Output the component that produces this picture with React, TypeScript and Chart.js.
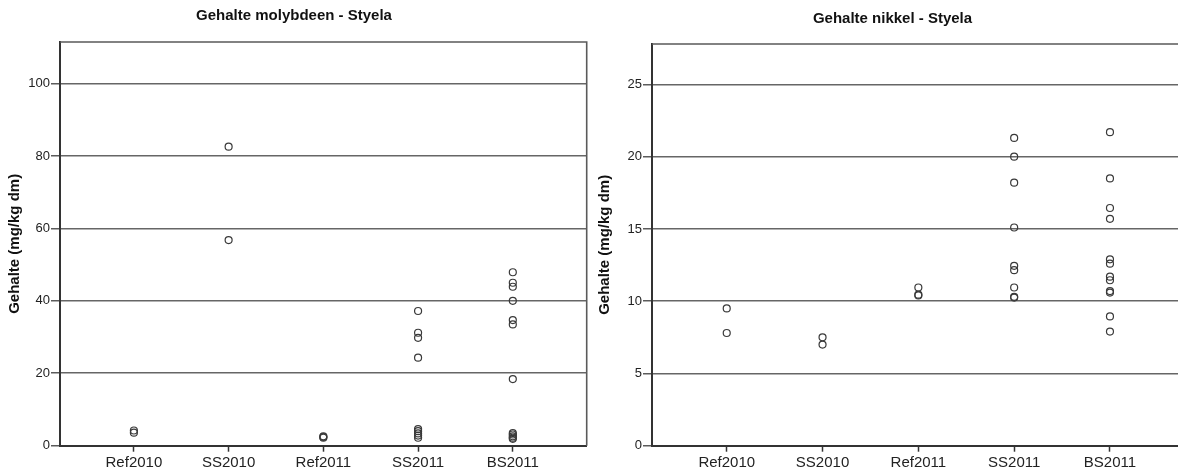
import { useEffect, useRef } from "react";
import { Chart, registerables } from "chart.js";

Chart.register(...registerables);

// Sample groups along the horizontal axis
const groups = ["Ref2010", "SS2010", "Ref2011", "SS2011", "BS2011"];

// Molybdeen content per sample (mg/kg dm)
const moRef2010 = [3.6, 4.2];
const moSS2010 = [82.6, 56.8];
const moRef2011 = [2.2, 2.4, 2.6];
const moSS2011 = [37.2, 31.2, 29.8, 24.3, 4.6, 4.0, 3.4, 2.8, 2.2];
const moBS2011 = [47.9, 45.0, 43.9, 40.0, 34.7, 33.5, 18.4, 3.5, 3.1, 2.6, 2.2, 1.9];
const moTicks = [0, 20, 40, 60, 80, 100];

// Nikkel content per sample (mg/kg dm)
const niRef2010 = [9.5, 7.8];
const niSS2010 = [7.5, 7.0];
const niRef2011 = [10.95, 10.45, 10.4];
const niSS2011 = [21.3, 20.0, 18.2, 15.1, 12.45, 12.15, 10.95, 10.3, 10.25];
const niBS2011 = [21.7, 18.5, 16.45, 15.7, 12.9, 12.6, 11.7, 11.45, 10.7, 10.6, 8.95, 7.9];
const niTicks = [0, 5, 10, 15, 20, 25];

const groupTicks = [1, 2, 3, 4, 5];

const FONT = '"Liberation Sans", Arial, sans-serif';
const NARROW = '"Liberation Sans Narrow", "Liberation Sans", Arial, sans-serif';

type Frame = {
  canvasLeft: number;
  canvasWidth: number;
  plotLeft: number;
  plotRight: number;
  plotTop: number;
  plotBottom: number;
  titleX: number;
  titleY: number;
};

type PanelProps = {
  title: string;
  series: number[][];
  yTicks: number[];
  yMax: number;
  frame: Frame;
};

const HEIGHT = 476;
const X_AXIS_H = 30;

function Panel({ title, series, yTicks, yMax, frame }: PanelProps) {
  const ref = useRef<HTMLCanvasElement | null>(null);

  useEffect(() => {
    if (!ref.current) return;
    const points = series.flatMap((vals, i) => vals.map((v) => ({ x: i + 1, y: v })));

    const frameLines = {
      id: "frameLines",
      afterDatasetsDraw(chart: Chart) {
        const { ctx, chartArea } = chart;
        ctx.save();
        ctx.strokeStyle = "#5a5a5a";
        ctx.lineWidth = 1.6;
        ctx.beginPath();
        ctx.moveTo(chartArea.left, chartArea.top);
        ctx.lineTo(chartArea.right, chartArea.top);
        ctx.lineTo(chartArea.right, chartArea.bottom);
        ctx.stroke();
        ctx.restore();
      },
      afterDraw(chart: Chart) {
        const { ctx } = chart;
        ctx.save();
        ctx.fillStyle = "#111";
        ctx.font = `bold 15px ${FONT}`;
        ctx.textAlign = "center";
        ctx.textBaseline = "middle";
        ctx.fillText(title, frame.titleX, frame.titleY);
        ctx.restore();
      },
    };

    const chart = new Chart(ref.current, {
      type: "scatter",
      data: {
        datasets: [
          {
            data: points,
            showLine: false,
            pointStyle: "circle",
            pointRadius: 3.5,
            pointHoverRadius: 3.5,
            pointBorderWidth: 1.2,
            borderColor: "#3a3a3a",
            backgroundColor: "rgba(0,0,0,0)",
          },
        ],
      },
      options: {
        responsive: false,
        animation: false,
        events: [],
        layout: {
          padding: {
            left: 0,
            top: frame.plotTop,
            right: frame.canvasWidth - frame.plotRight,
            bottom: HEIGHT - frame.plotBottom - X_AXIS_H,
          },
        },
        plugins: {
          legend: { display: false },
          tooltip: { enabled: false },
          title: { display: false },
        },
        scales: {
          x: {
            type: "linear",
            min: 0.22,
            max: 5.78,
            afterBuildTicks: (scale: any) => {
              scale.ticks = groupTicks.map((v) => ({ value: v }));
            },
            afterFit: (scale: any) => {
              scale.height = X_AXIS_H;
            },
            ticks: {
              autoSkip: false,
              maxRotation: 0,
              padding: 2,
              color: "#222",
              font: { family: FONT, size: 15 },
              callback: (v: any) => groups[Number(v) - 1] ?? "",
            },
            grid: {
              display: true,
              drawOnChartArea: false,
              drawTicks: true,
              tickLength: 6,
              tickColor: "#333",
              tickWidth: 1.5,
            },
            border: { display: true, color: "#333", width: 2 },
          },
          y: {
            type: "linear",
            min: 0,
            max: yMax,
            afterBuildTicks: (scale: any) => {
              scale.ticks = yTicks.map((v) => ({ value: v }));
            },
            afterFit: (scale: any) => {
              scale.width = frame.plotLeft;
            },
            ticks: {
              padding: 1,
              color: "#222",
              font: { family: NARROW, size: 13 },
            },
            grid: {
              display: true,
              drawOnChartArea: true,
              drawTicks: true,
              tickLength: 9,
              tickColor: "#333",
              tickWidth: 1.2,
              lineWidth: 1.6,
              color: (ctx: any) => (ctx.tick && ctx.tick.value === 0 ? "rgba(0,0,0,0)" : "#666"),
            },
            border: { display: true, color: "#333", width: 2 },
            title: {
              display: true,
              text: "Gehalte (mg/kg dm)",
              color: "#111",
              font: { family: FONT, size: 15, weight: "bold" },
              padding: { top: 6, bottom: 0 },
            },
          },
        },
      },
      plugins: [frameLines],
    } as any);

    return () => chart.destroy();
  }, [title, series, yTicks, yMax, frame]);

  return (
    <canvas
      ref={ref}
      width={frame.canvasWidth}
      height={HEIGHT}
      style={{
        position: "absolute",
        left: frame.canvasLeft,
        top: 0,
        width: frame.canvasWidth,
        height: HEIGHT,
      }}
    />
  );
}

const moFrame: Frame = {
  canvasLeft: 0,
  canvasWidth: 600,
  plotLeft: 60,
  plotRight: 586.7,
  plotTop: 42,
  plotBottom: 445.7,
  titleX: 294,
  titleY: 16,
};

const niFrame: Frame = {
  canvasLeft: 590,
  canvasWidth: 620,
  plotLeft: 62,
  plotRight: 594.7,
  plotTop: 44,
  plotBottom: 445.7,
  titleX: 302.5,
  titleY: 19,
};

const moSeries = [moRef2010, moSS2010, moRef2011, moSS2011, moBS2011];
const niSeries = [niRef2010, niSS2010, niRef2011, niSS2011, niBS2011];

export default function App() {
  return (
    <div
      style={{
        position: "fixed",
        left: 0,
        top: 0,
        width: 1178,
        height: HEIGHT,
        overflow: "hidden",
        background: "#fff",
      }}
    >
      <Panel title="Gehalte molybdeen - Styela" series={moSeries} yTicks={moTicks} yMax={111.5} frame={moFrame} />
      <Panel title="Gehalte nikkel - Styela" series={niSeries} yTicks={niTicks} yMax={27.8} frame={niFrame} />
    </div>
  );
}
